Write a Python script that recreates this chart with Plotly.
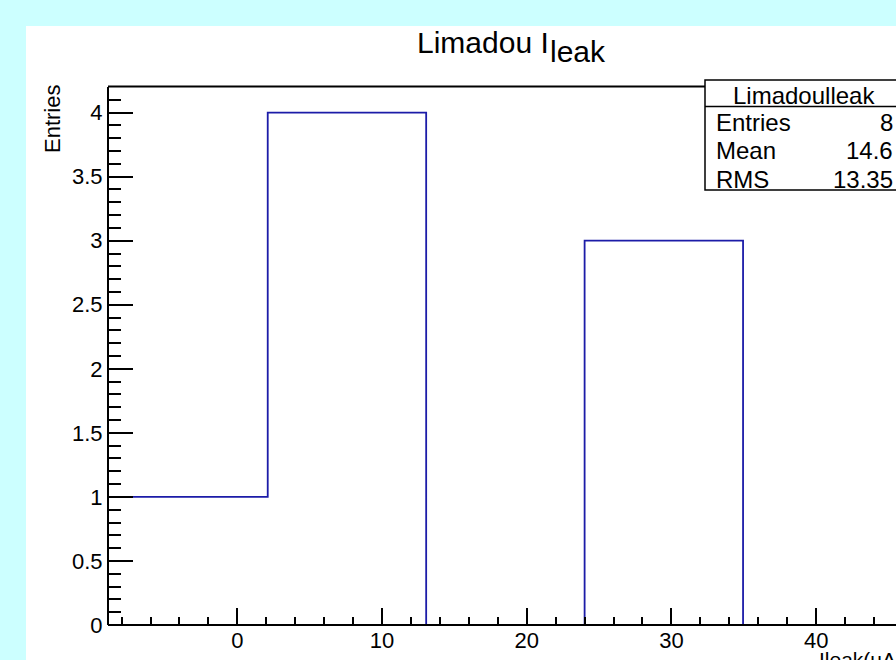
import plotly.graph_objects as go

# ---- data ----
bin_edges = [-8.85, 2.1, 13.05, 24.0, 34.95, 45.9]
counts = [1, 4, 0, 3, 0]
x_range = [-8.87, 45.52]
y_range = [0, 4.2]
stat_names = ["Entries", "Mean", "RMS"]
stat_values = ["8", "14.6", "13.35"]
hist_name = "Limadoulleak"

W, H = 896, 660
ML, MR, MT, MB = 109, 0, 87, 35
PW, PH = W - ML - MR, H - MT - MB
FONT = "Liberation Sans, Arial, sans-serif"


def px(p):
    return (p - ML) / PW


def py(p):
    return (H - MB - p) / PH


fig = go.Figure()
fig.add_trace(go.Scatter(
    x=bin_edges, y=counts + [counts[-1]], mode="lines",
    line=dict(color="#1c1ca8", width=1.8, shape="hv"),
    hoverinfo="skip", showlegend=False,
))

shapes = [
    # white canvas
    dict(type="rect", xref="paper", yref="paper", x0=px(26), x1=px(1000),
         y0=py(800), y1=py(26), fillcolor="white", line=dict(width=0), layer="below"),
    # frame top and bottom (drawn over the histogram, like ROOT)
    dict(type="line", xref="paper", yref="paper", x0=px(108), x1=px(1000),
         y0=py(86.5), y1=py(86.5), line=dict(color="black", width=2)),
    dict(type="line", xref="paper", yref="paper", x0=px(108), x1=px(1000),
         y0=py(625), y1=py(625), line=dict(color="black", width=2)),
    # stats box
    dict(type="rect", xref="paper", yref="paper", x0=px(705), x1=px(960),
         y0=py(190), y1=py(80), fillcolor="white", line=dict(color="black", width=1.5)),
    dict(type="line", xref="paper", yref="paper", x0=px(705), x1=px(960),
         y0=py(106.5), y1=py(106.5), line=dict(color="black", width=1.5)),
]

ann = []
# title
ann.append(dict(text="Limadou I", x=px(415), y=py(42), xref="paper", yref="paper",
                xanchor="left", yanchor="middle", showarrow=False,
                font=dict(family=FONT, size=30, color="black")))
ann.append(dict(text="leak", x=px(548), y=py(52), xref="paper", yref="paper",
                xanchor="left", yanchor="middle", showarrow=False,
                font=dict(family=FONT, size=30, color="black")))
# y title
ann.append(dict(text="Entries", x=px(53), y=py(119), xref="paper", yref="paper",
                xanchor="center", yanchor="middle", textangle=-90, showarrow=False,
                font=dict(family=FONT, size=22, color="black")))
# x title (cut by the canvas edge, as in the original)
ann.append(dict(text="Ileak(uA)", x=px(817), y=py(646), xref="paper", yref="paper",
                xanchor="left", yanchor="top", showarrow=False,
                font=dict(family=FONT, size=21, color="black")))
# stats
ann.append(dict(text=hist_name, x=px(804), y=py(95), xref="paper", yref="paper",
                xanchor="center", yanchor="middle", showarrow=False,
                font=dict(family=FONT, size=24, color="black")))
row_y = [122, 150.5, 179]
for name, val, yy in zip(stat_names, stat_values, row_y):
    ann.append(dict(text=name, x=px(714), y=py(yy), xref="paper", yref="paper",
                    xanchor="left", yanchor="middle", showarrow=False,
                    font=dict(family=FONT, size=24, color="black")))
    ann.append(dict(text=val, x=px(895), y=py(yy), xref="paper", yref="paper",
                    xanchor="right", yanchor="middle", showarrow=False,
                    font=dict(family=FONT, size=24, color="black")))

fig.update_layout(
    width=W, height=H,
    margin=dict(l=ML, r=MR, t=MT, b=MB, pad=0),
    paper_bgcolor="#ccffff", plot_bgcolor="white",
    shapes=shapes, annotations=ann,
    font=dict(family=FONT, size=20, color="black"),
    xaxis=dict(range=x_range, tick0=0, dtick=10, ticks="inside", ticklen=17,
               tickwidth=1.5, tickcolor="black", showgrid=False, zeroline=False,
               showline=False,
               tickfont=dict(family=FONT, size=22, color="black"),
               minor=dict(dtick=2, tick0=0, ticks="inside", ticklen=8,
                          tickwidth=1.5, tickcolor="black", showgrid=False)),
    yaxis=dict(range=y_range, tick0=0, dtick=0.5, ticks="inside", ticklen=24,
               tickwidth=1.5, tickcolor="black", showgrid=False, zeroline=False,
               showline=True, linecolor="black", linewidth=2, mirror=False,
               tickfont=dict(family=FONT, size=22, color="black"),
               ticklabelstandoff=0,
               minor=dict(dtick=0.1, tick0=0, ticks="inside", ticklen=12,
                          tickwidth=1.5, tickcolor="black", showgrid=False)),
)

fig.write_html("out.html")
